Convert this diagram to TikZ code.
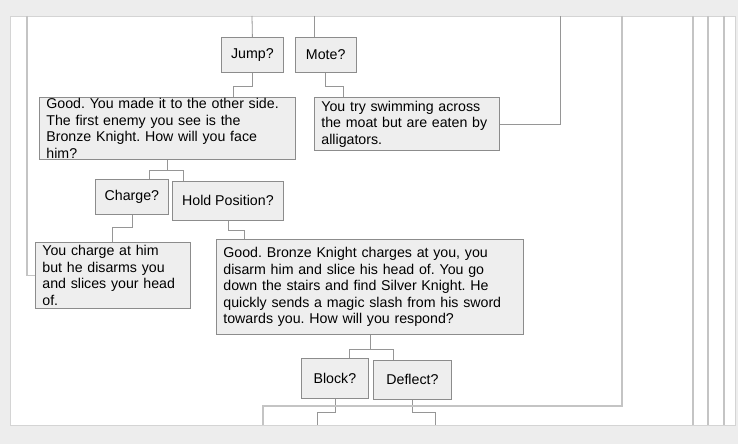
\documentclass[tikz,border=0pt]{standalone}
\usepackage{fontspec}
\setmainfont{Liberation Sans}
\usepackage{tikz}
\usetikzlibrary{positioning}
\definecolor{pgbg}{RGB}{237,237,237}
\definecolor{pgedge}{RGB}{212,212,212}
\definecolor{boxfill}{RGB}{238,238,238}
\definecolor{boxline}{RGB}{140,140,140}
\definecolor{linkgray}{RGB}{150,150,150}
\definecolor{railgray}{RGB}{196,196,196}
\tikzstyle{choice} = [rectangle, draw=boxline, fill=boxfill, line width=0.8pt, minimum height=35pt, inner sep=0pt, anchor=north west, font=\fontsize{14.2}{16.5}\selectfont]
\tikzstyle{story} = [choice, align=left, inner xsep=7pt]
\tikzstyle{link} = [line width=0.8pt, color=linkgray]
\tikzstyle{rail} = [line width=1.6pt, color=railgray]
\frenchspacing

\begin{document}
\begin{tikzpicture}[x=1pt, y=-1pt]
% Page and panel
\fill[pgbg] (0,0) rectangle (738,444);
\useasboundingbox (0,0) rectangle (738,444);
\filldraw[fill=white, draw=pgedge, line width=0.8pt] (10,16) rectangle (735,425);

% Top row
\node[choice, minimum width=62pt] (jump) at (221,37) {Jump?};
\node[choice, minimum width=61pt, right=11pt of jump] (mote) {Mote?};

% Second row
\node[story, minimum height=62pt, text width=242pt] (good1) at (39,97) {Good. You made it to the other side.\\The first enemy you see is the\\Bronze Knight. How will you face\\him?};
\node[story, minimum height=53pt, text width=171pt] (eaten) at (314,97) {You try swimming across\\the moat but are eaten by\\alligators.};

% Third row
\node[choice, minimum width=73pt] (charge) at (95,179) {Charge?};
\node[choice, minimum width=111pt, minimum height=39pt] (hold) at (172,181) {Hold Position?};

% Fourth row
\node[story, minimum height=66pt, text width=141pt] (slain) at (35,242) {You charge at him\\but he disarms you\\and slices your head\\of.};
\node[story, minimum height=95pt, text width=293pt] (good2) at (216,239) {Good. Bronze Knight charges at you, you\\disarm him and slice his head of. You go\\down the stairs and find Silver Knight. He\\quickly sends a magic slash from his sword\\towards you. How will you respond?};

% Fifth row
\node[choice, minimum width=67pt, minimum height=40pt] (block) at (301,358) {Block?};
\node[choice, minimum width=78pt, minimum height=39pt] (deflect) at (373,360) {Deflect?};

% Loose ends at the panel edges
\coordinate (intop) at (314,16);
\coordinate (jtop) at (252,16);
\coordinate (eatentop) at (560,16);
\coordinate (lefttop) at (27,16);
\coordinate (looptop) at (622,16);
\coordinate (loopend) at (263,425);
\coordinate (blockend) at (317,425);
\coordinate (deflectend) at (435,425);

% Connections into the top row
\draw[link] (jtop) -- (jump.north);
\draw[link] (intop) -- (intop |- mote.north);

% Connections between rows
\draw[link] (jump.south) -- ++(0,13.7) -| ([xshift=-19pt]jump.south |- good1.north);
\draw[link] (mote.south) -- ++(0,13.7) -| (343,97);
\draw[link] (eaten.east) -| (eatentop);
\draw[link] (good1.south) -- ++(0,11) -| ([xshift=-18pt]good1.south |- charge.north);
\draw[link] (good1.south) ++(0,11) -| (183,181);
\draw[rail] (lefttop) |- (slain.west);
\draw[link] (charge.south) -- ++(0,13) -| (112,242);
\draw[link] (hold.south) -- ++(0,10) -| (244,239);
\draw[link] (good2.south) -- ++(0,15) -| (349,358);
\draw[link] (good2.south) ++(0,15) -| (393,360);
\draw[link] (block.south) -- ++(0,14) -| (blockend);
\draw[link] (deflect.south) -- ++(0,13) -| (deflectend);
\draw[rail] (looptop) |- (263,406) -- (loopend);

% Rails on the right
\foreach \rx in {693,708,724}
  \draw[rail] (\rx,16) -- (\rx,425);
\end{tikzpicture}
\end{document}
